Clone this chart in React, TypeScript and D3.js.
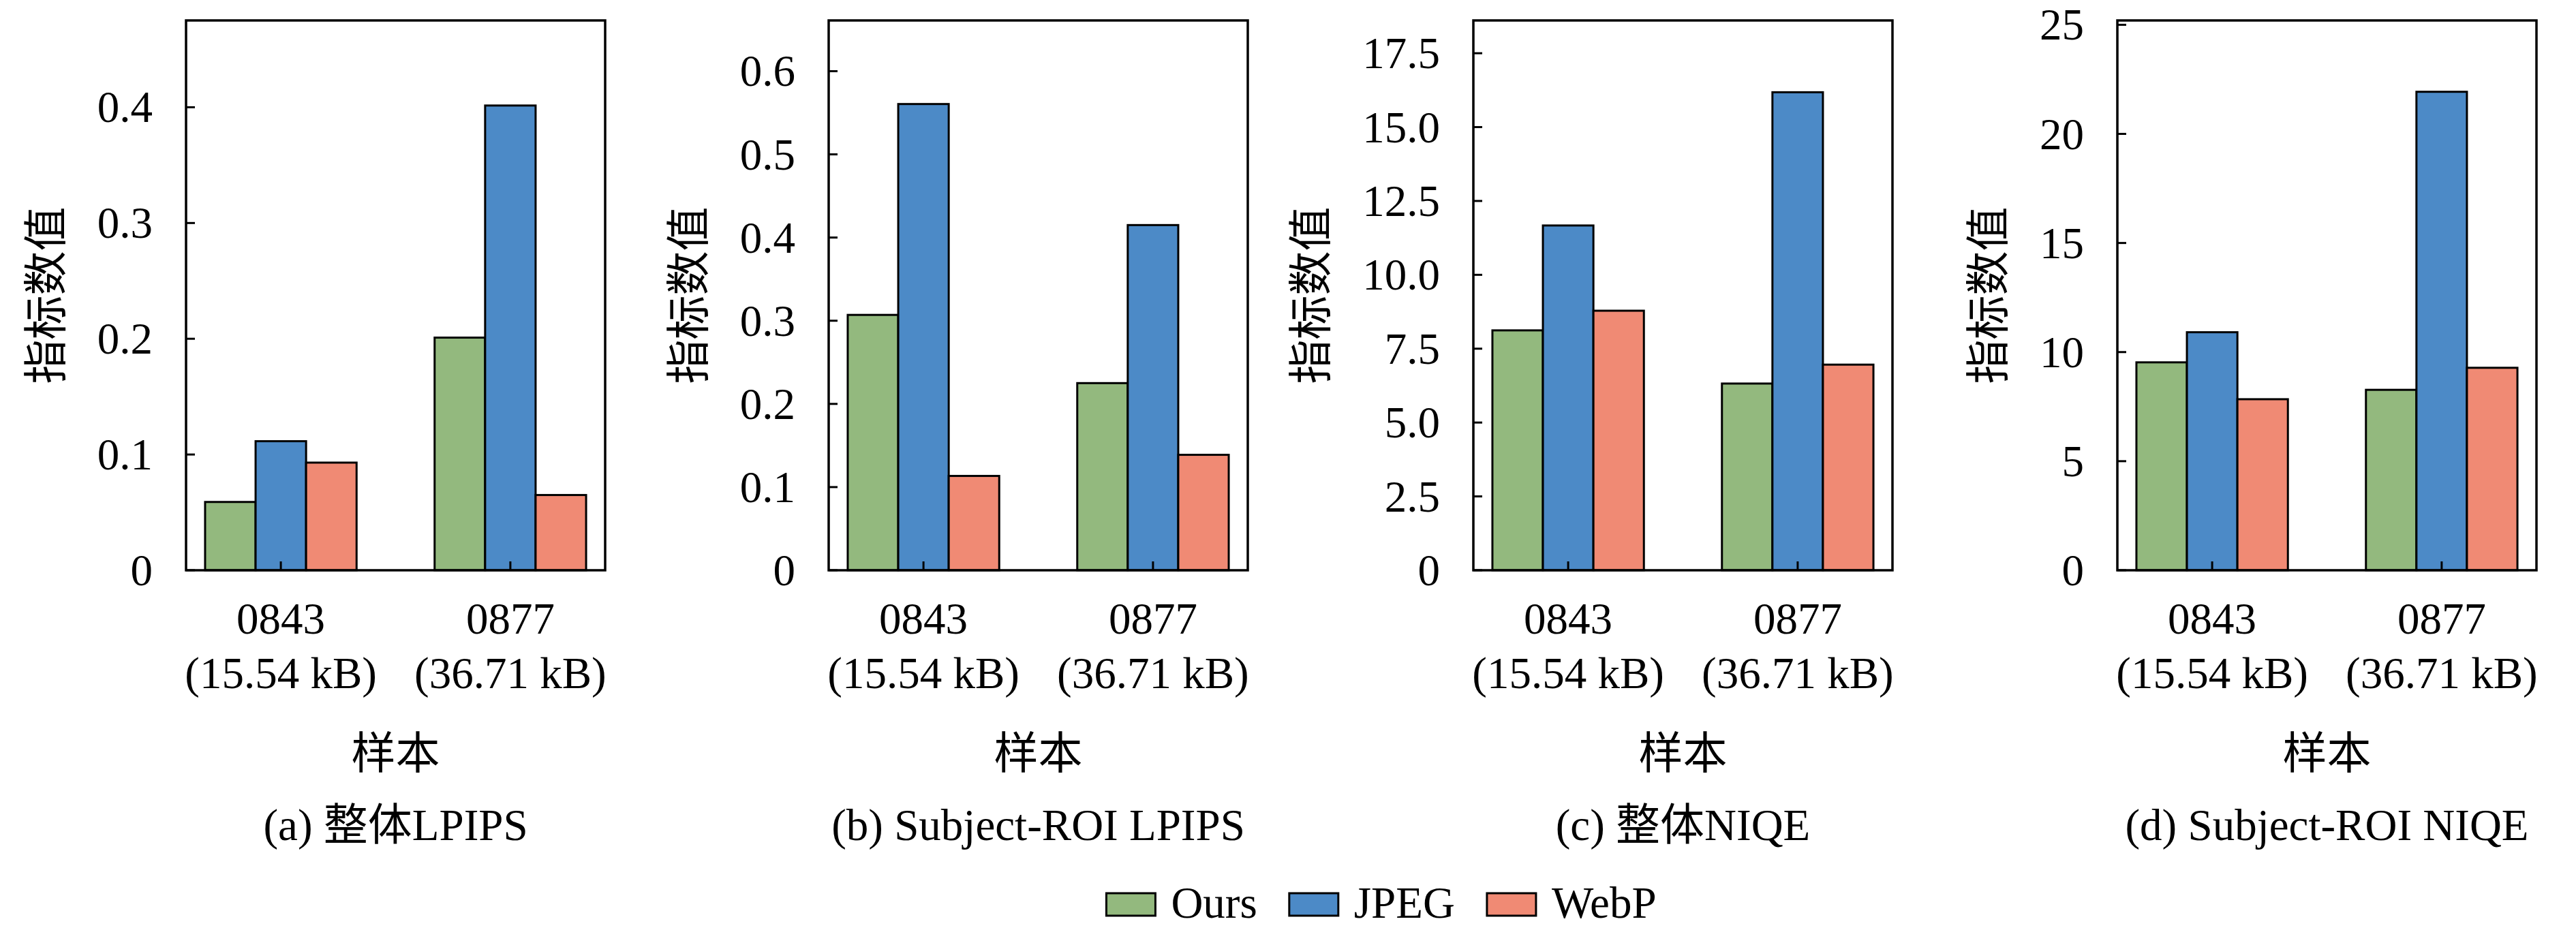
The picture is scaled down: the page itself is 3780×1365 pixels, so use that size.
import React, { useRef, useEffect } from "react";
import * as d3 from "d3";

// samples on the x axis
const categories = ["0843", "0877"];
const sampleSizes = ["(15.54 kB)", "(36.71 kB)"];
const seriesNames = ["Ours", "JPEG", "WebP"];
const seriesColors = ["#93b97e", "#4c8ac7", "#f08a74"];

const panelTitles = ["(a) 整体LPIPS", "(b) Subject-ROI LPIPS", "(c) 整体NIQE", "(d) Subject-ROI NIQE"];

// values per panel: [0843, 0877]
const oursValues = [[0.059, 0.201], [0.307, 0.225], [8.12, 6.32], [9.53, 8.27]];
const jpegValues = [[0.1115, 0.4015], [0.5605, 0.415], [11.67, 16.18], [10.91, 21.93]];
const webpValues = [[0.093, 0.065], [0.1134, 0.1388], [8.785, 6.96], [7.84, 9.28]];

const yMax = [0.475, 0.661, 18.61, 25.2];
const yTicks = [
  [0, 0.1, 0.2, 0.3, 0.4],
  [0, 0.1, 0.2, 0.3, 0.4, 0.5, 0.6],
  [0, 2.5, 5, 7.5, 10, 12.5, 15, 17.5],
  [0, 5, 10, 15, 20, 25],
];
const yTickLabels = [
  ["0", "0.1", "0.2", "0.3", "0.4"],
  ["0", "0.1", "0.2", "0.3", "0.4", "0.5", "0.6"],
  ["0", "2.5", "5.0", "7.5", "10.0", "12.5", "15.0", "17.5"],
  ["0", "5", "10", "15", "20", "25"],
];

const W = 3780;
const H = 1365;
const FONT = "'Liberation Serif', 'Noto Sans CJK SC', serif";
const FS = 65;

export default function App() {
  const ref = useRef<SVGSVGElement>(null);

  useEffect(() => {
    if (!ref.current) return;
    const svg = d3.select(ref.current);
    svg.selectAll("*").remove();

    const panelLeft = [273, 1216, 2162, 3107];
    const pw = 615;
    const top = 30;
    const bottom = 837;
    const barW = 0.22;
    const tickLen = 13;
    const series = [oursValues, jpegValues, webpValues];

    panelLeft.forEach((left, p) => {
      const g = svg.append("g");
      const x = d3.scaleLinear().domain([-0.413, 1.413]).range([left, left + pw]);
      const y = d3.scaleLinear().domain([0, yMax[p]]).range([bottom, top]);

      // bars
      series.forEach((vals, s) => {
        g.selectAll(null)
          .data(vals[p])
          .enter()
          .append("rect")
          .attr("x", (_, i) => x(i + (s - 1) * barW - barW / 2))
          .attr("width", x(barW) - x(0))
          .attr("y", d => y(d))
          .attr("height", d => bottom - y(d))
          .attr("fill", seriesColors[s])
          .attr("stroke", "#000")
          .attr("stroke-width", 3);
      });

      // frame
      g.append("rect")
        .attr("x", left).attr("y", top)
        .attr("width", pw).attr("height", bottom - top)
        .attr("fill", "none").attr("stroke", "#000").attr("stroke-width", 3.5);

      // y ticks (inward)
      g.selectAll(null).data(yTicks[p]).enter().append("line")
        .attr("x1", left).attr("x2", left + tickLen)
        .attr("y1", d => y(d)).attr("y2", d => y(d))
        .attr("stroke", "#000").attr("stroke-width", 3);

      const labels = g.selectAll(null).data(yTickLabels[p]).enter().append("text")
        .attr("x", left - 49)
        .attr("y", (_, i) => y(yTicks[p][i]) + 22)
        .attr("text-anchor", "end")
        .style("font-family", FONT).style("font-size", FS + "px")
        .text(d => d);

      let maxW = 0;
      labels.each(function () {
        maxW = Math.max(maxW, (this as SVGTextElement).getComputedTextLength());
      });

      // y label
      const lx = left - 49 - maxW - 53;
      const ly = (top + bottom) / 2;
      g.append("text")
        .attr("transform", `translate(${lx},${ly}) rotate(-90)`)
        .attr("text-anchor", "middle")
        .style("font-family", FONT).style("font-size", FS + "px")
        .text("指标数值");

      // x ticks (inward)
      g.selectAll(null).data(categories).enter().append("line")
        .attr("x1", (_, i) => x(i)).attr("x2", (_, i) => x(i))
        .attr("y1", bottom).attr("y2", bottom - tickLen)
        .attr("stroke", "#000").attr("stroke-width", 3);

      g.selectAll(null).data(categories).enter().append("text")
        .attr("x", (_, i) => x(i)).attr("y", 930)
        .attr("text-anchor", "middle")
        .style("font-family", FONT).style("font-size", FS + "px")
        .text(d => d);

      g.selectAll(null).data(sampleSizes).enter().append("text")
        .attr("x", (_, i) => x(i)).attr("y", 1010)
        .attr("text-anchor", "middle")
        .style("font-family", FONT).style("font-size", FS + "px")
        .text(d => d);

      const cx = left + pw / 2;
      g.append("text")
        .attr("x", cx).attr("y", 1128)
        .attr("text-anchor", "middle")
        .style("font-family", FONT).style("font-size", FS + "px")
        .text("样本");

      g.append("text")
        .attr("x", cx).attr("y", 1233)
        .attr("text-anchor", "middle")
        .style("font-family", FONT).style("font-size", FS + "px")
        .text(panelTitles[p]);
    });

    // legend
    const lg = svg.append("g");
    const patchW = 72, patchH = 33, gapText = 23, gapItem = 47;
    const items = seriesNames.map((name, i) => {
      const item = lg.append("g");
      item.append("rect")
        .attr("width", patchW).attr("height", patchH)
        .attr("y", 1311)
        .attr("fill", seriesColors[i]).attr("stroke", "#000").attr("stroke-width", 3);
      const t = item.append("text")
        .attr("x", patchW + gapText).attr("y", 1347)
        .style("font-family", FONT).style("font-size", FS + "px")
        .text(name);
      const tw = (t.node() as SVGTextElement).getComputedTextLength();
      return { item, w: patchW + gapText + tw };
    });
    const total = d3.sum(items, d => d.w) + gapItem * (items.length - 1);
    let cur = 2027 - total / 2;
    items.forEach(d => {
      d.item.attr("transform", `translate(${cur},0)`);
      cur += d.w + gapItem;
    });
  }, []);

  return (
    <svg
      ref={ref}
      width={W}
      height={H}
      style={{ position: "absolute", left: 0, top: 0, background: "#fff" }}
    />
  );
}
